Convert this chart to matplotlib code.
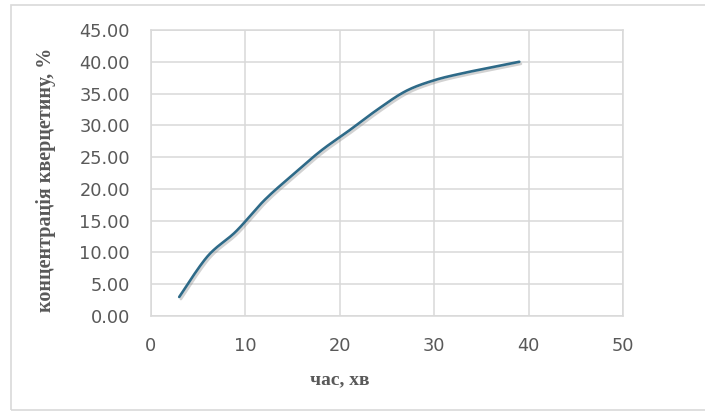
import numpy as np
import matplotlib

matplotlib.use("Agg")
import matplotlib.pyplot as plt
import matplotlib.patheffects as pe
from matplotlib.patches import Rectangle

# час, хв / концентрація кверцетину, %
time_min = [3, 6, 9, 12, 15, 18, 21, 24, 27, 30, 33, 36, 39]
quercetin = [3.0, 9.4, 13.3, 18.2, 22.2, 26.0, 29.2, 32.5, 35.4, 37.1, 38.2, 39.1, 40.0]

x_ticks = [0, 10, 20, 30, 40, 50]
y_ticks = [0, 5, 10, 15, 20, 25, 30, 35, 40, 45]

GRID = "#D9D9D9"
TEXT = "#595959"
LINE = "#2E6A88"


def smooth(xs, ys, steps=30):
    """Spreadsheet-style smoothed line: cubic Bezier between points,
    control handles at 1/6 of the neighbour difference."""
    p = np.column_stack([xs, ys]).astype(float)
    n = len(p)
    out = []
    for i in range(n - 1):
        p0 = p[max(i - 1, 0)]
        p1, p2 = p[i], p[i + 1]
        p3 = p[min(i + 2, n - 1)]
        c1 = p1 + (p2 - p0) / 6
        c2 = p2 - (p3 - p1) / 6
        t = np.linspace(0, 1, steps)[:, None]
        seg = ((1 - t) ** 3) * p1 + 3 * ((1 - t) ** 2) * t * c1 \
            + 3 * (1 - t) * t ** 2 * c2 + t ** 3 * p2
        out.append(seg if i == 0 else seg[1:])
    pts = np.vstack(out)
    return pts[:, 0], pts[:, 1]


fig = plt.figure(figsize=(7.05, 4.11), dpi=100)
ax = fig.add_axes([0.214, 0.231, 0.670, 0.696])

# outer chart frame
fig.patches.append(Rectangle((0.0156, 0.0024), 1.2, 0.986, transform=fig.transFigure,
                             fill=False, edgecolor=GRID, linewidth=1.2))

sx, sy = smooth(time_min, quercetin)
ax.plot(sx, sy, color=LINE, linewidth=1.9, solid_capstyle="round", zorder=3,
        path_effects=[pe.SimpleLineShadow(offset=(1.2, -1.5), shadow_color="#808080", alpha=0.35),
                      pe.Normal()])

ax.set_xlim(0, 50)
ax.set_ylim(0, 45)
ax.set_xticks(x_ticks)
ax.set_yticks(y_ticks)
ax.set_yticklabels([f"{v:.2f}" for v in y_ticks])
ax.grid(True, color=GRID, linewidth=1.1)
ax.set_axisbelow(True)
for side in ax.spines.values():
    side.set_color(GRID)
    side.set_linewidth(1.1)
ax.tick_params(length=0, pad=15, labelsize=12.8, labelcolor=TEXT)
for lab in ax.get_xticklabels() + ax.get_yticklabels():
    lab.set_family("DejaVu Sans")

fig.text(0.482, 0.075, "час, хв", ha="center", va="center", fontsize=14,
         fontweight="bold", family="Liberation Serif", color=TEXT)
fig.text(0.065, 0.563, "концентрація кверцетину, %", ha="center", va="center",
         rotation=90, fontsize=14.5, fontweight="bold", family="Liberation Serif", color=TEXT)

fig.savefig("out.png", dpi=100)
